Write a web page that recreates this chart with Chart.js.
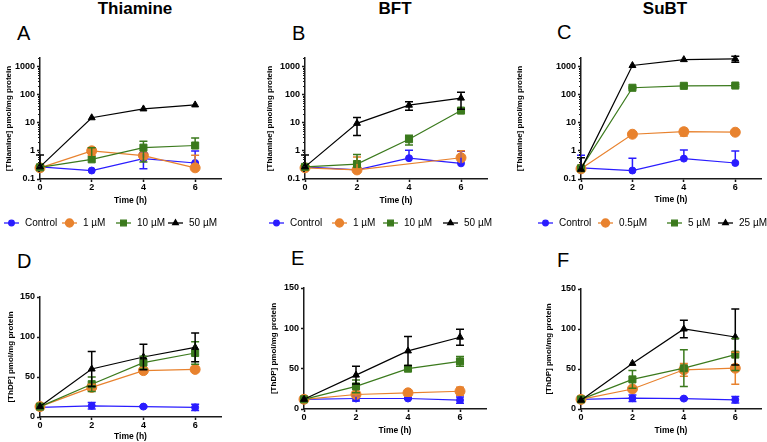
<!DOCTYPE html>
<html>
<head>
<meta charset="utf-8">
<script src="https://cdn.jsdelivr.net/npm/chart.js@4.4.1/dist/chart.umd.min.js"></script>
<style>
body { margin: 0; background: #fff; width: 767px; height: 442px; position: relative; overflow: hidden; font-family: "Liberation Sans", Arial, sans-serif; }
canvas { position: absolute; }
.ttl { position: absolute; font-weight: bold; font-size: 17px; line-height: 17px; color: #000; transform: translateX(-50%); white-space: nowrap; }
.let { position: absolute; font-size: 20px; line-height: 20px; color: #000; }
</style>
</head>
<body>
<div class="ttl" style="left:135px;top:0">Thiamine</div>
<div class="ttl" style="left:395px;top:0">BFT</div>
<div class="ttl" style="left:665px;top:0">SuBT</div>
<div class="let" style="left:17px;top:23px">A</div>
<div class="let" style="left:292px;top:23px">B</div>
<div class="let" style="left:557px;top:22px">C</div>
<div class="let" style="left:17px;top:251px">D</div>
<div class="let" style="left:291px;top:248px">E</div>
<div class="let" style="left:557px;top:250px">F</div>
<canvas id="cA" width="255" height="240" style="left:0;top:0"></canvas>
<canvas id="cB" width="250" height="240" style="left:255px;top:0"></canvas>
<canvas id="cC" width="262" height="240" style="left:505px;top:0"></canvas>
<canvas id="cD" width="255" height="202" style="left:0;top:240px"></canvas>
<canvas id="cE" width="250" height="202" style="left:255px;top:240px"></canvas>
<canvas id="cF" width="262" height="202" style="left:505px;top:240px"></canvas>
<script>
// time points (h) and axis ticks
const times = [0, 2, 4, 6]
const timeTicks = [0, 2, 4, 6]
const logTicks = [0.1, 1, 10, 100, 1000]
const linTicks = [0, 50, 100, 150]

const thiaLabels = ['Control', '1 µM', '10 µM', '50 µM']
const bftLabels = ['Control', '1 µM', '10 µM', '50 µM']
const subtLabels = ['Control', '0.5µM', '5 µM', '25 µM']

// A: intracellular thiamine after thiamine
const aControl = [0.27, 0.2, 0.53, 0.37]
const aControlSd = [0, 0, 0.3, 0.62]
const a1 = [0.25, 1.0, 0.68, 0.25]
const a1Sd = [0, 0.3, 0.15, 0.45]
const a10 = [0.26, 0.5, 1.3, 1.55]
const a10Sd = [0, 0.8, 0.9, 1.3]
const a50 = [0.27, 15, 31, 43]
const a50Sd = [0.45, 0, 0, 0]

// B: thiamine after BFT (no 1 µM point at 4 h)
const bControl = [0.27, 0.21, 0.55, 0.36]
const bControlSd = [0, 0, 0.5, 0.6]
const b1 = [0.25, 0.21, null, 0.57]
const b1Sd = [0, 0.4, 0, 0.45]
const b10 = [0.27, 0.34, 2.6, 27]
const b10Sd = [0, 0.4, 1.0, 0]
const b50 = [0.27, 9.5, 42, 75]
const b50Sd = [0.45, 6, 14, 45]

// C: thiamine after SuBT
const cControl = [0.25, 0.2, 0.53, 0.37]
const cControlSd = [0.45, 0.35, 0.55, 0.62]
const c05 = [0.23, 3.9, 4.8, 4.6]
const c05Sd = [0, 0.3, 1.4, 0.3]
const c5 = [0.24, 175, 205, 210]
const c5Sd = [0, 10, 15, 20]
const c25 = [0.22, 1080, 1750, 1850]
const c25Sd = [0.35, 0, 0, 450]

// D: ThDP after thiamine
const dControl = [12, 14, 13, 12]
const dControlSd = [0, 4, 1, 4]
const d1 = [13, 37, 58, 59.5]
const d1Sd = [0, 4, 2, 3]
const d10 = [13, 41, 68, 80]
const d10Sd = [0, 9, 8, 14]
const d50 = [13, 60, 75, 87]
const d50Sd = [0, 22, 16, 18]

// E: ThDP after BFT
const eControl = [12, 13, 13, 11]
const eControlSd = [0, 3, 1, 4]
const e1 = [12, 18, 20, 22]
const e1Sd = [0, 2, 3, 5]
const e10 = [12, 28, 50, 59]
const e10Sd = [0, 8, 2, 6]
const e50 = [12, 42, 72, 89]
const e50Sd = [0, 11, 18, 10]

// F: ThDP after SuBT
const fControl = [12, 13.5, 13, 11.5]
const fControlSd = [0, 4, 1, 4]
const f05 = [12, 25, 49, 51]
const f05Sd = [0, 0, 8, 20]
const f5 = [12, 37, 51, 68]
const f5Sd = [0, 11, 23, 20]
const f25 = [11, 57, 100, 90]
const f25Sd = [0, 0, 11, 35]

const BLUE = '#2a1cff'
const ORANGE = '#e8822e'
const GREEN = '#3b7a1d'
const BLACK = '#000000'
const AXIS = '#1a1a1a'
const FONT = '"Liberation Sans", Arial, sans-serif'

Chart.defaults.font.family = FONT
Chart.defaults.color = '#000'

const errorBars = {
    id: 'errorBars',
    afterDatasetsDraw(chart) {
        const ctx = chart.ctx
        const y = chart.scales.y
        const isLog = y.type === 'logarithmic'
        ctx.save()
        chart.data.datasets.forEach((ds, di) => {
            const meta = chart.getDatasetMeta(di)
            ctx.strokeStyle = ds.borderColor
            ctx.lineWidth = 1.5
            ds.data.forEach((v, i) => {
                const e = ds.sd[i]
                if (!e || v == null) return
                const pt = meta.data[i]
                const top = y.getPixelForValue(v + e)
                const lo = v - e
                // on the log axes a lower bar that would run off is left out
                const showLo = isLog ? lo > v * 0.25 : lo > y.min
                const bottom = showLo ? y.getPixelForValue(lo) : pt.y
                ctx.beginPath()
                ctx.moveTo(pt.x, top); ctx.lineTo(pt.x, bottom)
                ctx.moveTo(pt.x - 4, top); ctx.lineTo(pt.x + 4, top)
                if (showLo) { ctx.moveTo(pt.x - 4, bottom); ctx.lineTo(pt.x + 4, bottom) }
                ctx.stroke()
            })
        })
        ctx.restore()
    }
}

// short minor ticks on the log axes
const minorTicks = {
    id: 'minorTicks',
    afterDraw(chart) {
        const y = chart.scales.y
        if (y.type !== 'logarithmic') return
        const ctx = chart.ctx
        ctx.save()
        ctx.strokeStyle = AXIS
        ctx.lineWidth = 1
        ctx.beginPath()
        for (let d = 0.1; d < 2000; d *= 10) {
            for (let k = 2; k <= 9; k++) {
                const v = d * k
                if (v > y.max) break
                const py = Math.round(y.getPixelForValue(v)) + 0.5
                ctx.moveTo(y.right - 2, py); ctx.lineTo(y.right, py)
            }
        }
        ctx.stroke()
        ctx.restore()
    }
}

const panelLegend = {
    id: 'panelLegend',
    afterDraw(chart, args, opts) {
        if (!opts.xs) return
        const ctx = chart.ctx
        ctx.save()
        chart.data.datasets.forEach((ds, i) => {
            const x0 = opts.xs[i], yy = opts.y
            ctx.strokeStyle = ds.borderColor
            ctx.fillStyle = ds.backgroundColor
            ctx.lineWidth = 1.3
            ctx.beginPath(); ctx.moveTo(x0, yy); ctx.lineTo(x0 + 15, yy); ctx.stroke()
            Chart.helpers.drawPoint(ctx, { pointStyle: ds.pointStyle, radius: ds.pointRadius * 0.8, borderWidth: 1 }, x0 + 7.5, yy)
            ctx.fillStyle = '#000'
            ctx.font = '10px ' + FONT
            ctx.textBaseline = 'middle'
            ctx.textAlign = 'left'
            ctx.fillText(ds.label, x0 + 21, yy)
        })
        ctx.restore()
    }
}

const makeSet = (label, data, sd, color, style, radius, order) => ({
    label: label,
    data: data,
    sd: sd,
    borderColor: color,
    backgroundColor: color,
    borderWidth: 1.2,
    pointStyle: style,
    pointRadius: radius,
    pointBorderWidth: 1,
    tension: 0,
    spanGaps: true,
    clip: false,
    order: order
})

const buildPanel = (p) => {
    const canvas = document.getElementById(p.id)
    const padLeft = p.yTitleX - 4.8
    const yWidth = p.area[0] - padLeft
    const xHeight = p.xTitleY + 4.8 - p.area[3]
    const isLog = p.log
    new Chart(canvas.getContext('2d'), {
        type: 'line',
        data: {
            labels: times,
            datasets: [
                makeSet(p.labels[0], p.series[0], p.sds[0], BLUE, 'circle', 3.5, 3),
                makeSet(p.labels[1], p.series[1], p.sds[1], ORANGE, 'circle', 5, 2),
                makeSet(p.labels[2], p.series[2], p.sds[2], GREEN, 'rect', 5, 1),
                makeSet(p.labels[3], p.series[3], p.sds[3], BLACK, 'triangle', 4, 0)
            ]
        },
        options: {
            responsive: false,
            animation: false,
            devicePixelRatio: 1,
            layout: {
                padding: {
                    left: padLeft,
                    right: canvas.width - p.area[1],
                    top: p.area[2],
                    bottom: canvas.height - p.area[3] - xHeight
                }
            },
            plugins: {
                legend: { display: false },
                tooltip: { enabled: false },
                panelLegend: p.legend ? { xs: p.legend, y: 223 } : {}
            },
            scales: {
                x: {
                    type: 'linear',
                    min: 0,
                    max: 7,
                    afterBuildTicks: s => { s.ticks = timeTicks.map(v => ({ value: v })) },
                    afterFit: s => { s.height = xHeight },
                    border: { display: true, color: AXIS, width: 1.5 },
                    grid: { drawOnChartArea: false, drawTicks: true, tickLength: 3, color: AXIS, tickWidth: 1.5 },
                    ticks: { padding: 0, font: { size: 9, weight: 'bold' }, color: '#000' },
                    title: { display: true, text: 'Time (h)', font: { size: 8.5, weight: 'bold' }, color: '#000', padding: 0 }
                },
                y: {
                    type: isLog ? 'logarithmic' : 'linear',
                    min: isLog ? 0.1 : 0,
                    max: isLog ? 2000 : 150,
                    afterBuildTicks: s => { s.ticks = (isLog ? logTicks : linTicks).map(v => ({ value: v })) },
                    afterFit: s => { s.width = yWidth },
                    border: { display: true, color: AXIS, width: 1.5 },
                    grid: { drawOnChartArea: false, drawTicks: true, tickLength: 3, color: AXIS, tickWidth: 1.5 },
                    ticks: { padding: 2, font: { size: 9, weight: 'bold' }, color: '#000', callback: v => String(v) },
                    title: { display: true, text: p.yTitle, font: { size: 8, weight: 'bold' }, color: '#000', padding: 0 }
                }
            }
        },
        plugins: [errorBars, minorTicks, panelLegend]
    })
}

const thiaTitle = '[Thiamine] pmol/mg protein'
const thdpTitle = '[ThDP] pmol/mg protein'

buildPanel({ id: 'cA', log: true, area: [40, 221, 58, 179], yTitleX: 9, xTitleY: 201, yTitle: thiaTitle,
    labels: thiaLabels, series: [aControl, a1, a10, a50], sds: [aControlSd, a1Sd, a10Sd, a50Sd], legend: [4, 62, 116, 168] })
buildPanel({ id: 'cB', log: true, area: [50, 232, 58, 179], yTitleX: 15, xTitleY: 201, yTitle: thiaTitle,
    labels: bftLabels, series: [bControl, b1, b10, b50], sds: [bControlSd, b1Sd, b10Sd, b50Sd], legend: [14, 77, 128, 188] })
buildPanel({ id: 'cC', log: true, area: [76, 257, 58, 179], yTitleX: 15, xTitleY: 200, yTitle: thiaTitle,
    labels: subtLabels, series: [cControl, c05, c5, c25], sds: [cControlSd, c05Sd, c5Sd, c25Sd], legend: [33, 93, 162, 213] })
buildPanel({ id: 'cD', log: false, area: [40, 221, 57, 177], yTitleX: 11, xTitleY: 197, yTitle: thdpTitle,
    labels: thiaLabels, series: [dControl, d1, d10, d50], sds: [dControlSd, d1Sd, d10Sd, d50Sd] })
buildPanel({ id: 'cE', log: false, area: [49, 231, 48, 169], yTitleX: 19, xTitleY: 191, yTitle: thdpTitle,
    labels: bftLabels, series: [eControl, e1, e10, e50], sds: [eControlSd, e1Sd, e10Sd, e50Sd] })
buildPanel({ id: 'cF', log: false, area: [76, 257, 49, 169], yTitleX: 44, xTitleY: 191, yTitle: thdpTitle,
    labels: subtLabels, series: [fControl, f05, f5, f25], sds: [fControlSd, f05Sd, f5Sd, f25Sd] })
</script>
</body>
</html>
